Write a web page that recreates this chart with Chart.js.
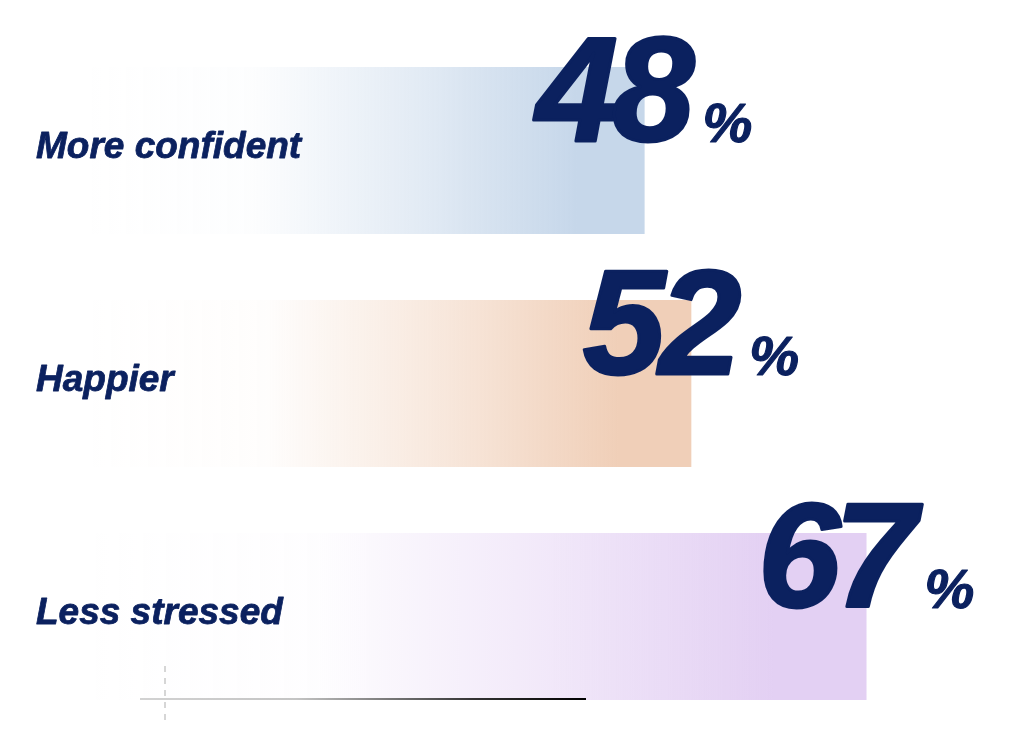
<!DOCTYPE html>
<html lang="en">
<head>
    <meta charset="UTF-8">
    <title>Survey results</title>
    <script src="https://cdn.jsdelivr.net/npm/chart.js"></script>
    <style>
        body { margin: 0; background: #fff; }
        .quadro { width: 1016px; height: 736px; position: relative; }
    </style>
</head>
<body>
    <div class="quadro">
        <canvas id="grafico"></canvas>
    </div>

<script>
    // dados
    const categorias = ["More confident", "Happier", "Less stressed"];
    const valores = [48, 52, 67];
    const coresBarra = ["198, 215, 234", "240, 207, 184", "227, 208, 243"];

    const azul = "#0b215f";

    function gradiente(ctx) {
        const chart = ctx.chart;
        const area = chart.chartArea;
        if (!area) return "rgba(0,0,0,0)";
        const i = ctx.dataIndex;
        const x0 = chart.scales.x.getPixelForValue(0);
        const x1 = chart.scales.x.getPixelForValue(valores[i]);
        const g = chart.ctx.createLinearGradient(x0, 0, x1, 0);
        const c = coresBarra[i];
        g.addColorStop(0, "rgba(" + c + ", 0)");
        g.addColorStop(0.3, "rgba(" + c + ", 0.04)");
        g.addColorStop(0.6, "rgba(" + c + ", 0.5)");
        g.addColorStop(0.88, "rgba(" + c + ", 1)");
        g.addColorStop(1, "rgba(" + c + ", 1)");
        return g;
    }

    const textos = {
        id: "textos",
        afterDatasetsDraw(chart) {
            const c = chart.ctx;
            c.save();
            // linha base e tracejado
            const lg = c.createLinearGradient(140, 0, 586, 0);
            lg.addColorStop(0, "#d2d2d2");
            lg.addColorStop(0.35, "#c4c4c4");
            lg.addColorStop(0.75, "#333333");
            lg.addColorStop(1, "#000000");
            c.strokeStyle = lg;
            c.lineWidth = 2;
            c.beginPath();
            c.moveTo(140, 699);
            c.lineTo(586, 699);
            c.stroke();
            c.strokeStyle = "#d6d6d6";
            c.setLineDash([6, 6]);
            c.beginPath();
            c.moveTo(165, 666);
            c.lineTo(165, 722);
            c.stroke();
            c.setLineDash([]);

            const meta = chart.getDatasetMeta(0);
            c.fillStyle = azul;
            c.strokeStyle = azul;
            c.lineJoin = "round";
            meta.data.forEach(function (barra, i) {
                const y = barra.y;
                const xFim = barra.x;

                c.font = "italic bold 37px 'Liberation Sans', Arial, sans-serif";
                c.textAlign = "left";
                c.textBaseline = "alphabetic";
                c.letterSpacing = "0px";
                c.lineWidth = 0.8;
                c.fillText(categorias[i], 36, y + 7);
                c.strokeText(categorias[i], 36, y + 7);

                c.font = "italic bold 148px 'Liberation Sans', Arial, sans-serif";
                c.textAlign = "right";
                c.letterSpacing = "-6px";
                c.lineWidth = 3;
                c.fillText(String(valores[i]), xFim + 44, y - 10);
                c.strokeText(String(valores[i]), xFim + 44, y - 10);

                c.font = "italic bold 56px 'Liberation Sans', Arial, sans-serif";
                c.textAlign = "left";
                c.letterSpacing = "0px";
                c.lineWidth = 1.2;
                c.fillText("%", xFim + 58, y - 9);
                c.strokeText("%", xFim + 58, y - 9);
            });
            c.restore();
        }
    };

    new Chart(document.getElementById("grafico"), {
        type: "bar",
        data: {
            labels: categorias,
            datasets: [{
                data: valores,
                backgroundColor: gradiente,
                borderWidth: 0,
                barPercentage: 0.717,
                categoryPercentage: 1
            }]
        },
        options: {
            indexAxis: "y",
            responsive: true,
            maintainAspectRatio: false,
            animation: false,
            layout: { padding: { left: 84, right: 21, top: 34, bottom: 3 } },
            scales: {
                x: { display: false, min: 0, max: 78 },
                y: { display: false }
            },
            plugins: {
                legend: { display: false },
                tooltip: { enabled: false }
            }
        },
        plugins: [textos]
    });
</script>
</body>
</html>
